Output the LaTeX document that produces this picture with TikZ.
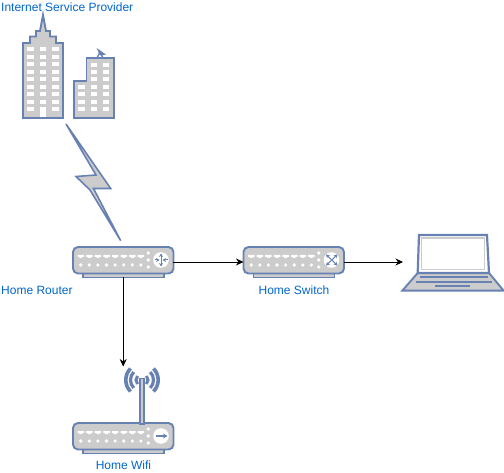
\documentclass[tikz,border=0pt]{standalone}
\usepackage{fontspec}
\setmainfont{Liberation Sans}
\usetikzlibrary{arrows.meta}
\definecolor{edgeblue}{HTML}{6881B3}
\definecolor{bodygrey}{HTML}{CCCCCC}
\definecolor{labelblue}{HTML}{0066CC}
\tikzset{
  shape fill/.style={draw=edgeblue,fill=bodygrey,line width=1.9pt,line join=miter},
  window/.style={fill=white,draw=none},
  glyph/.style={draw=edgeblue,line width=1pt},
  glyphtip/.style={glyph,{Stealth[length=3.5pt,width=4pt]}-{Stealth[length=3.5pt,width=4pt]}},
  glyphhead/.style={glyph,-{Stealth[length=3.5pt,width=4pt]}},
  label text/.style={text=labelblue,font=\fontsize{12}{14}\selectfont,inner sep=0pt},
  wire/.style={draw=black,line width=0.75pt,-{Stealth[length=7.5pt,width=7pt]}},
  slot/.style={draw=edgeblue,line width=1.7pt},
  anchorbox/.style={inner sep=0pt,outer sep=0pt,minimum width=#1},
}
% device body, local origin = top-left corner of the rounded box
\newcommand{\devicebody}[2]{%
  \begin{scope}[shift={(#1,#2)}]
    \draw[draw=edgeblue,fill=bodygrey,line width=1.3pt] (10,26) rectangle (91,30.5);
    \draw[shape fill,rounded corners=5pt] (0,0) rectangle (100.5,26.5);
    \foreach \i in {0,...,7}{
      \fill[white] ({4.5+8.6*\i},8) -- ({11+8.6*\i},8) -- ({11+8.6*\i},10) -- ({9.2+8.6*\i},10) -- ({9.2+8.6*\i},11) -- ({6.3+8.6*\i},11) -- ({6.3+8.6*\i},10) -- ({4.5+8.6*\i},10) -- cycle;
      \fill[white] ({7.7+8.6*\i},18) circle[radius=1.8pt];
    }
    \foreach \yy in {6,13,20}{\fill[white] (75.3,\yy) circle[radius=1.9pt];}
    \fill[white] (88,13) circle[radius=7.8pt];
  \end{scope}}
\begin{document}
\begin{tikzpicture}[x=1pt,y=-1pt]
\useasboundingbox (0,0) rectangle (504,473);

% invisible named anchors for the connectors
\node[anchorbox=100.5pt,minimum height=30pt] (router) at (123.2,262) {};
\node[anchorbox=100.5pt,minimum height=30pt] (switch) at (293.7,262) {};
\node[anchorbox=102pt,minimum height=56pt] (laptop) at (403,262) [anchor=west] {};
\node[anchorbox=100.5pt,minimum height=87pt] (wifi) at (123.2,410) {};

% tall building
\draw[shape fill] (23,43) -- (30,43) -- (30,36.5) -- (36,36.5) -- (36,31) -- (40,31) -- (43,15) -- (46,31) -- (50,31) -- (50,36.5) -- (56,36.5) -- (56,43) -- (63,43) -- (63,118) -- (23,118) -- cycle;
\foreach \r in {0,...,8}{
  \foreach \c in {30.7,43,55.2}{
    \fill[window] ({\c-3.3},{47.4+7.45*\r}) rectangle ({\c+3.3},{51.4+7.45*\r});
  }
}
\fill[window] (40,107) rectangle (46,117);

% short building with dish
\draw[draw=edgeblue,line width=1.4pt] (97,58) -- (100,52) -- (103,58);
\fill[edgeblue] (96.5,48) -- (106,54.5) -- (100,55.5) -- cycle;
\draw[shape fill] (74,81) -- (86.5,81) -- (86.5,58) -- (114,58) -- (114,118) -- (74,118) -- cycle;
\foreach \r in {0,...,6}{
  \foreach \c in {94,106}{
    \fill[window] ({\c-3.3},{62.7+7.4*\r}) rectangle ({\c+3.3},{66.7+7.4*\r});
  }
}
\foreach \r in {3,...,6}{
  \fill[window] (78.2,{62.7+7.4*\r}) rectangle (84.8,{66.7+7.4*\r});
}

% lightning bolt
\draw[shape fill,line width=1.6pt] (66,124) -- (110.7,188.5) -- (93.5,188.5) -- (120.7,240.7) -- (90,190) -- (76,176.5) -- (96,175) -- cycle;

% routers
\devicebody{73}{247}
\devicebody{243.5}{247}
\devicebody{73}{423}

% router glyph
\draw[glyphtip] (161,253.5) -- (161,266.5);
\draw[glyphhead] (154.5,260) -- (159.5,260);
\draw[glyphhead] (167.5,260) -- (162.5,260);

% switch glyph
\draw[glyphtip] (326,254.5) -- (337.5,265.5);
\draw[glyphtip] (326,265.5) -- (337.5,254.5);

% wifi glyph
\draw[glyph,line width=1.5pt,-{Stealth[length=4.5pt,width=5pt]}] (156,436) -- (167.5,436);

% antenna
\foreach \rr/\ww/\aa in {6/3/42,11.5/3.2/44,16.2/3.6/45}{
  \draw[draw=edgeblue,line width=\ww pt] ([shift={(180-\aa:\rr pt)}]142,380) arc[start angle=180-\aa,end angle=180+\aa,radius=\rr pt];
  \draw[draw=edgeblue,line width=\ww pt] ([shift={(\aa:\rr pt)}]142,380) arc[start angle=\aa,end angle=-\aa,radius=\rr pt];
}
\draw[draw=edgeblue,fill=bodygrey,line width=1.5pt] (140,424) -- (140,378.5) -- (144,378.5) -- (144,424) -- cycle;

% laptop
\draw[shape fill] (417.7,273) -- (489,273) -- (503.7,290.7) -- (402.3,290.7) -- cycle;
\draw[shape fill,fill=white,line width=2.2pt] (419,235) -- (487,235) -- (489,273) -- (417.7,273) -- cycle;
\draw[draw=bodygrey,line width=1.5pt] (421.5,238.2) rectangle (484.5,269.5);
\draw[slot] (420,277) -- (488,277);
\draw[slot] (415.7,281.7) -- (491.7,281.7);
\draw[slot] (435,286) -- (470,286);

% connectors
\draw[wire] (router) -- (switch);
\draw[wire] (switch) -- (laptop);
\draw[wire] (router) -- (wifi);

% labels
\node[label text,anchor=west] (isp) at (1,7) {Internet Service Provider};
\node[label text,anchor=west] (routerlabel) at (1,290.5) {Home Router};
\node[label text] (switchlabel) at (294,290.5) {Home Switch};
\node[label text] (wifilabel) at (123.5,465) {Home Wifi};
\end{tikzpicture}
\end{document}
